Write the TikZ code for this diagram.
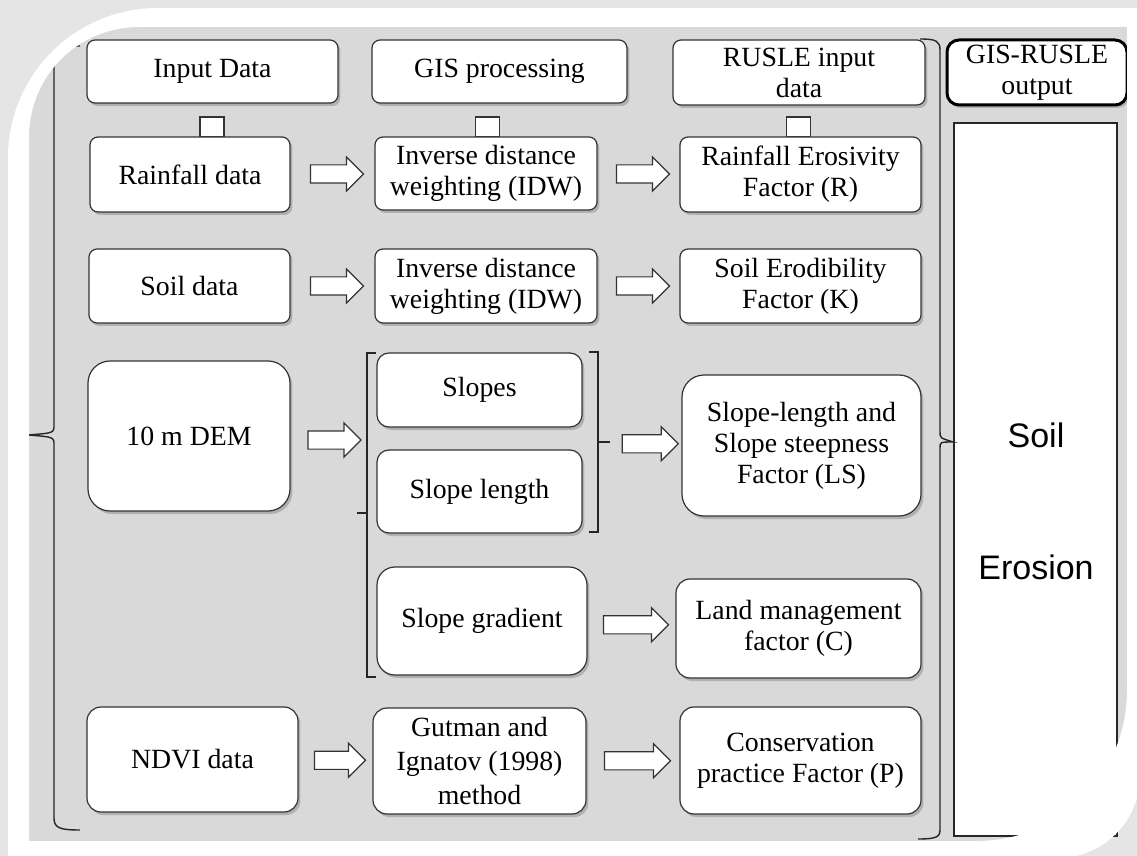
\documentclass[tikz,border=0pt]{standalone}
\usepackage{fontspec}
\setmainfont{Liberation Serif}
\newfontfamily\arialfont{Liberation Sans}
\usetikzlibrary{arrows.meta,positioning,shapes.arrows,shadows,calc}
\newcommand{\boxfont}{\fontsize{13.9}{15.5}\selectfont}
\tikzset{
  box/.style={draw=black!80,fill=white,line width=0.6pt,rounded corners=#1,align=center,
    inner sep=1pt,font=\boxfont,drop shadow={opacity=0.45,shadow xshift=1.2pt,shadow yshift=-1.5pt}},
  box/.default=4pt,
  sz/.style 2 args={minimum width=#1pt,minimum height=#2pt},
  sqr/.style={draw=black!80,fill=white,line width=0.6pt,minimum width=12pt,minimum height=10pt,inner sep=0pt},
  barrow/.style={single arrow,draw=black!80,fill=white,line width=0.6pt,minimum height=#1pt,
    single arrow head extend=4pt,inner xsep=0pt,inner ysep=4.25pt},
  barrow/.default=26.5,
  brace/.style={draw=black!85,line width=0.7pt},
  panel/.style={fill=gray!30},
}

\begin{document}
\begin{tikzpicture}[x=0.5pt,y=-0.5pt]
  \useasboundingbox (0,0) rectangle (1137,856);
  % frame
  \fill[gray!20] (0,0) rectangle (1137,856);
  \fill[panel] (29,841) -- (29,137) .. controls (29,76) and (78,27) .. (139,27) -- (1127,27)
    -- (1127,691) .. controls (1127,774) and (1060,841) .. (977,841) -- cycle;

  % headers
  \node[box,sz={125.5}{31.5}] (hin) at (212.5,71.5) {Input Data};
  \node[box,sz={127.5}{31.5}] (hgis) at (499.5,71.5) {GIS processing};
  \node[box,sz={126}{32.5}] (hrus) at (799,72.5) {RUSLE input\\data};
  \node[box=6pt,sz={90}{32.5},draw=black,line width=1.5pt] (hout) at (1037,72.5) {GIS-RUSLE\\output};
  \node[sqr] (s1) at (212,127) {};
  \node[sqr] (s2) at (487.5,127) {};
  \node[sqr] (s3) at (798.5,127) {};

  % rows
  \node[box,sz={100}{37.5}] (rain) at (190,174.5) {Rainfall data};
  \node[box,sz={111}{36.5}] (idwa) at (486,173.5) {Inverse distance\\weighting (IDW)};
  \node[box,sz={120.5}{37.5}] (rfac) at (800.5,174.5) {Rainfall Erosivity\\Factor (R)};

  \node[box,sz={100.5}{37}] (soil) at (189.5,286) {Soil data};
  \node[box,sz={111}{37}] (idwb) at (486,286) {Inverse distance\\weighting (IDW)};
  \node[box,sz={120.5}{37}] (kfac) at (800.5,286) {Soil Erodibility\\Factor (K)};

  \node[box=11pt,sz={101}{75}] (dem) at (189,436) {10 m DEM};
  \node[box=6pt,sz={102.5}{37}] (slp) at (479.5,390) {Slopes};
  \node[box=6pt,sz={102.5}{41.5}] (slen) at (479.5,491.5) {Slope length};
  \node[box=11pt,sz={119.5}{70.5}] (lsf) at (801.5,445.5) {Slope-length and\\Slope steepness\\Factor (LS)};
  \node[box=9pt,sz={105}{54}] (sgrad) at (482,621) {Slope gradient};
  \node[box=7pt,sz={122.5}{49.5}] (cfac) at (798.5,628.5) {Land management\\factor (C)};

  \node[box=7pt,sz={105.5}{52.5}] (ndvi) at (192.5,759.5) {NDVI data};
  \node[box=7pt,sz={106.5}{53},font=\fontsize{13.9}{16.8}\selectfont] (gut) at (479.5,761) {Gutman and\\Ignatov (1998)\\method};
  \node[box=7pt,sz={120.5}{53.5}] (pfac) at (800.5,760.5) {Conservation\\practice Factor (P)};

  \node[draw=black!85,fill=white,line width=0.7pt,sz={81.5}{356.5}] (out) at (1035.5,479.5) {};
  \node[font=\arialfont\fontsize{17}{20}\selectfont,align=center] (outtxt) at (1036,501.5) {Soil\\[46pt]Erosion};

  % block arrows
  \node[barrow] (ar1) at ($(rain.east)!0.5!(idwa.west)$) {};
  \node[barrow] (ar2) at ($(idwa.east)!0.5!(rfac.west)$) {};
  \node[barrow] (as1) at ($(soil.east)!0.5!(idwb.west)$) {};
  \node[barrow] (as2) at ($(idwb.east)!0.5!(kfac.west)$) {};
  \node[barrow] (ad) at (330,440) {};
  \coordinate (brk) at (610,442);
  \node[barrow=28] (al) at ($(brk)!0.5!(lsf.west)$) {};
  \node[barrow=32.5] (ag) at ($(sgrad.east)!0.5!(cfac.west)$) {};
  \node[barrow=25.5] (an1) at ($(ndvi.east)!0.5!(gut.west)$) {};
  \node[barrow=33] (an2) at ($(gut.east)!0.5!(pfac.west)$) {};

  % brackets
  \draw[brace] (80,46) .. controls (60,46) and (54,48) .. (54,60) -- (54,425)
    .. controls (54,433) .. (28,435) .. controls (54,437) .. (54,445) -- (54,818)
    .. controls (54,828) and (60,830) .. (80,830);
  \draw[brace] (920,39) .. controls (936,39) and (940,41) .. (940,50) -- (940,432)
    .. controls (940,438) .. (out.west |- brk) .. controls (940,442) .. (940,448) -- (940,830)
    .. controls (940,837) and (936,839) .. (918,839);
  \draw[brace] (376,353) -- (367,353) -- (367,677) -- (376,677);
  \draw[brace] (367,513) -- (357,513);
  \draw[brace] (589,352) -- (598,352) -- (598,532) -- (589,532);
  \draw[brace] (598,442) -- (brk);

  % white band on top
  \fill[white,even odd rule] (8,858) -- (8,158) .. controls (8,75) and (75,8) .. (158,8) -- (1140,8)
    -- (1140,776) .. controls (1140,821) and (1103,858) .. (1058,858) -- cycle
    (29,841) -- (29,137) .. controls (29,76) and (78,27) .. (139,27) -- (1127,27)
    -- (1127,691) .. controls (1127,774) and (1060,841) .. (977,841) -- cycle;
\end{tikzpicture}
\end{document}
